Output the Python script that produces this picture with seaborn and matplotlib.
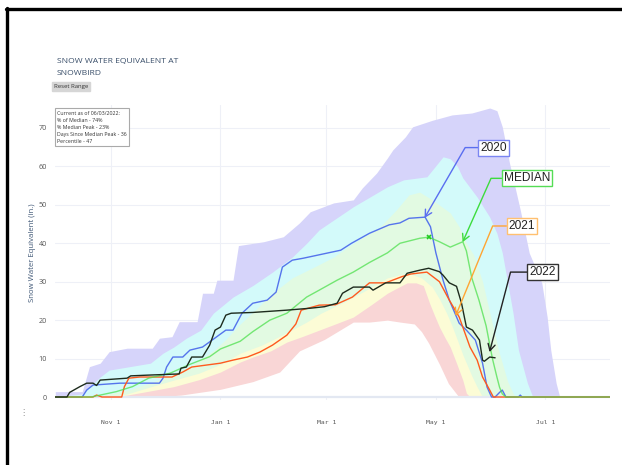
import numpy as np
import pandas as pd
import matplotlib
matplotlib.use("Agg")
import matplotlib.pyplot as plt
import seaborn as sns
from matplotlib.lines import Line2D

# ---------------- data (day index: 0 = Oct 1) ----------------
tick_days = [31, 92, 151, 212, 273]
tick_labels = ["Nov 1", "Jan 1", "Mar 1", "May 1", "Jul 1"]

max_day = [0, 15, 19, 25, 30, 40, 54, 58, 65, 69, 79, 82, 88, 90, 99, 102, 116, 127, 136, 142, 155, 166, 171, 179,
           185, 188, 195, 199, 210, 221, 232, 242, 246, 249, 253, 259, 264, 271, 274, 276, 279, 281, 309]
max_val = [1.4, 1.4, 7.9, 8.8, 11.8, 12.7, 12.7, 15.3, 15.7, 19.6, 19.6, 27, 27, 30.4, 30.4, 39.4, 40.4, 41.7, 45.3,
           48.2, 50.5, 51.3, 54.4, 58.3, 62.2, 64.3, 67.7, 70.3, 72, 73.4, 73.9, 75.2, 74.5, 70.3, 60.9, 48.7, 37.5,
           29.7, 20.8, 12.2, 3.6, 0, 0]

p90_day = [0, 15, 25, 30, 53, 60, 66, 73, 81, 88, 99, 110, 121, 132, 140, 147, 166, 185, 194, 207, 216, 220, 224,
           227, 235, 242, 246, 249, 252, 255, 258, 263, 266, 309]
p90_val = [0, 0.8, 5.2, 7, 8.8, 11.4, 13, 15.3, 17.4, 21.8, 26, 29, 32.5, 36.4, 40, 43.5, 49.5, 54.7, 56.5, 57.3,
           62.5, 62, 60, 57, 52, 46.8, 42.6, 37.5, 29.7, 21.8, 12.2, 3.6, 0, 0]

p70_day = [0, 20, 30, 42, 58, 75, 88, 95, 103, 110, 121, 132, 145, 155, 166, 181, 190, 197, 203, 210, 220, 225,
           229, 233, 238, 241, 244, 247, 249.5, 252, 255, 256.5, 309]
p70_val = [0, 0, 0.8, 2, 4.5, 8, 12, 15, 19, 22, 27, 31, 34, 36.4, 40, 44.3, 48.7, 52.6, 53.3, 51.3, 47.9, 44.3,
           40, 37, 30, 24, 18, 12, 8, 4, 1, 0, 0]

p30_day = [0, 30, 40, 52, 66, 80, 92, 103, 115, 128, 140, 148, 160, 172, 185, 192, 198, 204, 210, 214, 218, 221,
           224, 227, 229, 232, 235, 238, 309]
p30_val = [0, 0, 0.8, 2.5, 4.4, 6.2, 8.5, 11.4, 13.5, 16.5, 19.5, 21.8, 24.5, 27.5, 31, 31.8, 32, 31, 28.6, 25.5,
           21.8, 18.5, 14.8, 11, 8.8, 5.5, 2.6, 0, 0]

p10_day = [0, 30, 40, 52, 66, 80, 92, 103, 110, 120, 129, 138, 147, 156, 166, 176, 185, 191, 196, 201, 205, 208.5,
           211, 214, 217, 220, 223.5, 227, 229, 231, 309]
p10_val = [0, 0, 0.5, 1.5, 2.7, 4.5, 6.5, 9.1, 10.4, 12, 14.3, 15.8, 17.4, 19, 20.8, 24, 27, 28.5, 29.7, 29.7, 29,
           24.4, 21.5, 18.2, 15.5, 13, 8.8, 4.4, 1, 0, 0]

min_day = [0, 55, 70, 92, 110, 125, 136, 150, 166, 175, 185, 192, 200, 204, 208, 214, 219, 224, 225, 309]
min_val = [0, 0, 0.5, 2, 4, 6.5, 12, 15, 19.5, 19.5, 20, 19.5, 19, 17, 14, 8.5, 3.5, 0.5, 0, 0]

med_day = [0, 20, 23, 34, 43, 52, 64, 75, 86, 92, 103, 110, 119.5, 129, 140, 147, 157, 166, 175, 185, 192, 203,
           208, 214, 220, 225, 227, 229, 232, 236, 240, 243.5, 246, 247.5, 249, 251, 309]
med_val = [0, 0, 0.3, 1.4, 2.7, 4.9, 6.2, 8.5, 10.5, 12.5, 14.5, 17, 20, 21.8, 26, 27.8, 30.4, 32.5, 35, 37.5, 40,
           41.3, 41.6, 40.4, 39, 40, 40.4, 38, 31, 25.2, 18.5, 10, 5.2, 2.5, 0.8, 0, 0]
med_peak_day = [208]
med_peak_val = [41.6]

y2020_day = [0, 15, 17.5, 21, 36, 58, 60, 62, 65.5, 71, 75, 82, 90, 95, 99, 104, 110, 118, 123, 126.5, 132, 138, 147,
             159, 165, 175, 186, 192, 197, 206, 209, 212, 216, 219.5, 225, 229, 234, 238, 240.5, 243, 245, 247.5,
             249, 251, 258, 259, 260, 309]
y2020_val = [0, 0, 1.8, 3.1, 3.6, 3.6, 4.9, 7.8, 10.4, 10.4, 12.2, 13, 15.7, 17.4, 17.4, 21.8, 24.4, 25.2, 27.3,
             33.8, 35.6, 36.1, 37, 38.2, 40, 42.6, 44.8, 45.3, 46.5, 46.8, 44.3, 37.5, 30.4, 25.2, 19.2, 17.4, 14.8,
             8.8, 2.6, 0, 0, 1.2, 1.8, 0, 0, 0.5, 0, 0]

y2021_day = [0, 21, 23, 26, 37, 38.5, 41, 47, 65, 71, 76, 84, 92, 99, 107, 114, 121, 129, 134, 137, 147, 156, 165.5,
             175, 184, 193, 198, 207, 214, 219.5, 225, 231, 235, 238, 242, 244, 309]
y2021_val = [0, 0, 0.5, 0, 0, 2.7, 4.9, 5.2, 5.2, 6.5, 7.8, 8.3, 8.8, 9.6, 10.4, 11.7, 13.5, 16.1, 19, 22.6, 23.9,
             24, 26, 29.7, 29.7, 31.3, 32, 32.5, 30, 25.2, 20.8, 13, 9.6, 5.2, 1.8, 0, 0]

y2022_day = [0, 6.5, 8, 13.7, 17.5, 21, 23, 25, 40, 42, 52, 69, 70, 73, 76, 82, 86, 89, 92, 95, 98, 110, 129, 142,
             150, 157, 160, 166, 175, 177, 184, 192, 196, 203, 208, 214, 216, 219.5, 223.5, 226.3, 229, 232.4,
             236.3, 238, 239, 242, 245]
y2022_val = [0, 0, 1.2, 2.7, 3.6, 3.6, 3.0, 4.4, 4.9, 5.5, 5.7, 6, 7.5, 7.8, 10.4, 10.4, 13.5, 17.4, 18.2, 21.3,
             21.8, 22, 22.6, 23.1, 23.5, 24.4, 27, 28.6, 28.6, 27.8, 29.7, 29.7, 32.2, 33, 33.5, 32.6, 31.7, 29.7,
             28.8, 24.4, 18.2, 17.4, 14.8, 9.6, 9.3, 10.4, 10.2]

title_lines = ["SNOW WATER EQUIVALENT AT", "SNOWBIRD"]
info_lines = ["Current as of 06/03/2022:", "% of Median - 74%", "% Median Peak - 23%",
              "Days Since Median Peak - 36", "Percentile - 47"]

# ---------------- style ----------------
sns.set_style("white")
plt.rcParams['font.family'] = ['Open Sans', 'DejaVu Sans']

W, H = 622, 465
fig = plt.figure(figsize=(W / 100, H / 100), dpi=100)
fig.patch.set_facecolor("white")

XMIN, XMAX = 0, 309
YMIN, YMAX = -0.8, 76
ax_left, ax_right = 55.3, 610
ax_top = 397 - YMAX * 3.843
ax_bot = 397 - YMIN * 3.843
ax = fig.add_axes([ax_left / W, 1 - ax_bot / H, (ax_right - ax_left) / W, (ax_bot - ax_top) / H])
ax.set_xlim(XMIN, XMAX)
ax.set_ylim(YMIN, YMAX)
for s in ax.spines.values():
    s.set_visible(False)

# grid
for d in tick_days:
    ax.axvline(d, color="#eef0f7", lw=0.8, zorder=0)
for v in range(10, 80, 10):
    ax.axhline(v, color="#eef0f7", lw=0.8, zorder=0)

# percentile bands (layered)
bands = [(max_day, max_val, "#d6d4fa"), (p90_day, p90_val, "#d3fafa"), (p70_day, p70_val, "#e2fae2"),
         (p30_day, p30_val, "#fcfcd6"), (p10_day, p10_val, "#f9d6d6"), (min_day, min_val, "#ffffff")]
for i, (dx, vy, c) in enumerate(bands):
    ax.fill_between(dx, 0, vy, color=c, lw=0, zorder=1 + i * 0.01)

ax.axhline(0, color="#e3e8f2", lw=1.6, zorder=1.5)

# lines
line_specs = [(y2020_day, y2020_val, "#5574ec", 1.0),
              (y2021_day, y2021_val, "#ff5a1e", 1.0),
              (med_day, med_val, "#4ee04e", 0.75),
              (y2022_day, y2022_val, "#1d2b1d", 1.0)]
for dx, vy, c, a in line_specs:
    sns.lineplot(x=dx, y=vy, ax=ax, color=c, lw=1.0, alpha=a, estimator=None, sort=False, zorder=3)
ax.plot(med_peak_day, med_peak_val, marker="x", ms=3, mew=1.2, color="#22cc22", ls="none", zorder=4)

# ticks
ax.set_xticks(tick_days)
ax.set_xticklabels(tick_labels, family="DejaVu Sans Mono", fontsize=4.6, color="#555555")
ax.set_yticks(range(0, 80, 10))
ax.set_yticklabels([str(v) for v in range(0, 80, 10)], fontsize=5.2, color="#555555")
ax.tick_params(axis="both", length=0, pad=6)
ax.tick_params(axis="x", pad=14)
ax.set_xlabel("")
ax.set_ylabel("Snow Water Equivalent (in.)", fontsize=5.6, color="#3e5675", labelpad=2)

# annotations
def annot(text, tip, box, color, boxcolor, angleB):
    ax.annotate(text, xy=tip, xytext=box, textcoords="data", ha="center", va="center",
                fontsize=8.6, family=["Liberation Sans", "DejaVu Sans"], color="#222222", zorder=6,
                bbox=dict(boxstyle="square,pad=0.16", fc="white", ec=boxcolor, lw=1.0),
                arrowprops=dict(arrowstyle="->,head_length=0.55,head_width=0.3", color=color, lw=1.0,
                                connectionstyle=f"angle,angleA=0,angleB={angleB},rad=0", shrinkA=0, shrinkB=0))

annot("2020", (205.7, 46.6), (244.1, 64.9), "#5a6ef0", "#7b86f2", 60)
annot("MEDIAN", (226.9, 40.3), (262.8, 56.9), "#3ddc3d", "#55dd55", 66)
annot("2021", (223.0, 21.1), (260.0, 44.5), "#ffa533", "#ffc070", 67.6)
annot("2022", (241.9, 11.7), (271.4, 32.5), "#222222", "#333333", 75.3)

# title & boxes
fig.text(57 / W, 1 - 62 / H, title_lines[0], fontsize=6.1, color="#3a4f6a", va="center", ha="left")
fig.text(57 / W, 1 - 73.5 / H, title_lines[1], fontsize=6.1, color="#3a4f6a", va="center", ha="left")
fig.text(71 / W, 1 - 86.5 / H, "Reset Range", fontsize=4.3, color="#333333", va="center", ha="center",
         bbox=dict(boxstyle="square,pad=0.35", fc="#d6d6d6", ec="#d6d6d6"))
fig.text(57 / W, 1 - 110.5 / H, "\n".join(info_lines), fontsize=3.75, color="#333333", va="top", ha="left",
         linespacing=1.55, bbox=dict(boxstyle="square,pad=0.4", fc="white", ec="#aaaaaa", lw=0.8))
fig.text(23 / W, 1 - 413 / H, "\u22ee", fontsize=6, color="#888888", va="center", ha="center")

# frame (screenshot border on top and left)
fig.add_artist(Line2D([7 / W, 7 / W], [0, 1 - 8 / H], transform=fig.transFigure, color="black", lw=2.4))
fig.add_artist(Line2D([6 / W, 1], [1 - 9 / H, 1 - 9 / H], transform=fig.transFigure, color="black", lw=2.4))

fig.savefig("out.png", dpi=100, facecolor="white")
